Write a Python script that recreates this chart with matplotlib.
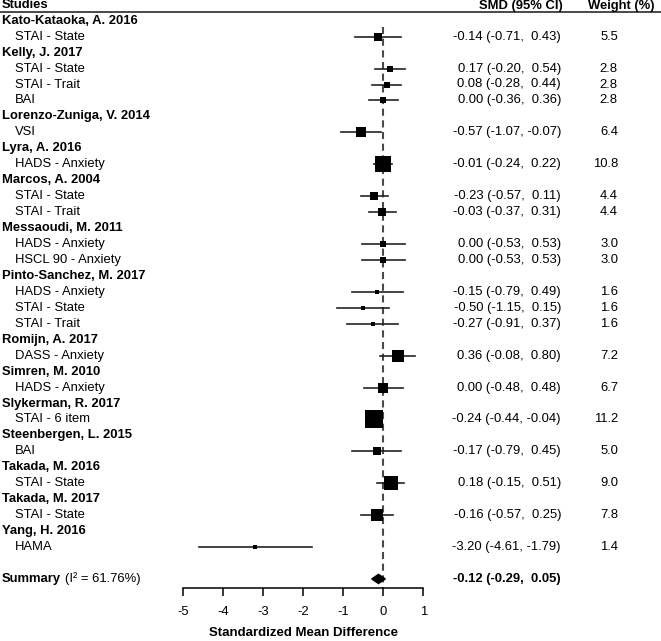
import matplotlib
matplotlib.use("Agg")
import matplotlib.pyplot as plt
from matplotlib.transforms import blended_transform_factory
from matplotlib.patches import Polygon

plt.rcParams['font.family'] = ['Liberation Sans', 'DejaVu Sans']

# ---------------- data ----------------
study_names = [
    "Kato-Kataoka, A. 2016", "Kelly, J. 2017", "Lorenzo-Zuniga, V. 2014",
    "Lyra, A. 2016", "Marcos, A. 2004", "Messaoudi, M. 2011",
    "Pinto-Sanchez, M. 2017", "Romijn, A. 2017", "Simren, M. 2010",
    "Slykerman, R. 2017", "Steenbergen, L. 2015", "Takada, M. 2016",
    "Takada, M. 2017", "Yang, H. 2016",
]
outcome_study = [0, 1, 1, 1, 2, 3, 4, 4, 5, 5, 6, 6, 6, 7, 8, 9, 10, 11, 12, 13]
outcome_labels = [
    "STAI - State",
    "STAI - State", "STAI - Trait", "BAI",
    "VSI",
    "HADS - Anxiety",
    "STAI - State", "STAI - Trait",
    "HADS - Anxiety", "HSCL 90 - Anxiety",
    "HADS - Anxiety", "STAI - State", "STAI - Trait",
    "DASS - Anxiety",
    "HADS - Anxiety",
    "STAI - 6 item",
    "BAI",
    "STAI - State",
    "STAI - State",
    "HAMA",
]
smd = [-0.14, 0.17, 0.08, 0.00, -0.57, -0.01, -0.23, -0.03, 0.00, 0.00,
       -0.15, -0.50, -0.27, 0.36, 0.00, -0.24, -0.17, 0.18, -0.16, -3.20]
ci_low = [-0.71, -0.20, -0.28, -0.36, -1.07, -0.24, -0.57, -0.37, -0.53, -0.53,
          -0.79, -1.15, -0.91, -0.08, -0.48, -0.44, -0.79, -0.15, -0.57, -4.61]
ci_high = [0.43, 0.54, 0.44, 0.36, -0.07, 0.22, 0.11, 0.31, 0.53, 0.53,
           0.49, 0.15, 0.37, 0.80, 0.48, -0.04, 0.45, 0.51, 0.25, -1.79]
weights = [5.5, 2.8, 2.8, 2.8, 6.4, 10.8, 4.4, 4.4, 3.0, 3.0,
           1.6, 1.6, 1.6, 7.2, 6.7, 11.2, 5.0, 9.0, 7.8, 1.4]
summary_est, summary_low, summary_high = -0.12, -0.29, 0.05
summary_i2 = 61.76
x_ticks = [-5, -4, -3, -2, -1, 0, 1]

# ---------------- layout ----------------
W, H = 661, 641
fig = plt.figure(figsize=(W / 100, H / 100), dpi=100)
ax = fig.add_axes([0, 0, 1, 1])

px0, ppu = 383.3, 40.0          # pixel of x=0, pixels per unit
row0_px, row_h = 20.7, 15.95    # pixel of first row, row height
ax.set_xlim(-px0 / ppu, (W - px0) / ppu)
ax.set_ylim(1 + (H - row0_px) / row_h, 1 - row0_px / row_h)

def row_of_px(p):
    return 1 + (p - row0_px) / row_h

# assign rows
header_rows = {}
outcome_rows = []
r = 1
prev = None
for i, s in enumerate(outcome_study):
    if s != prev:
        header_rows[s] = r
        r += 1
        prev = s
    outcome_rows.append(r)
    r += 1
summary_row = r + 1

tr = blended_transform_factory(fig.transFigure, ax.transData)
fs = 9.35

# header
ax.text(2 / W, row_of_px(5.5), "Studies", transform=tr, fontsize=fs,
        fontweight='bold', ha='left', va='center')
ax.text(563 / W, row_of_px(5.5), "SMD (95% CI)", transform=tr, fontsize=fs,
        fontweight='bold', ha='right', va='center')
ax.text(655 / W, row_of_px(5.5), "Weight (%)", transform=tr, fontsize=fs,
        fontweight='bold', ha='right', va='center')
ax.axhline(row_of_px(11.7), color='#3a3a3a', lw=1.3)

# study headers
for s, name in enumerate(study_names):
    ax.text(2 / W, header_rows[s], name, transform=tr, fontsize=fs,
            fontweight='bold', ha='left', va='center')

axis_row = row_of_px(587.5)
# zero line
ax.plot([0, 0], [row_of_px(27), axis_row], color='#4a4a4a', lw=1.5,
        ls=(0, (3.4, 2.2)), zorder=1)

# outcomes
for i, lab in enumerate(outcome_labels):
    y = outcome_rows[i]
    ax.text(15 / W, y, lab, transform=tr, fontsize=fs, ha='left', va='center')
    ax.plot([ci_low[i], ci_high[i]], [y, y], color='#222222', lw=1.2, zorder=2)
    ax.plot([smd[i]], [y], marker='s', color='black',
            ms=(1.0 + 1.45 * weights[i]) * 0.72, mew=0, zorder=3, ls='none')
    ax.text(561 / W, y, f"{smd[i]:.2f} ({ci_low[i]:.2f}, {ci_high[i]:5.2f})",
            transform=tr, fontsize=fs, ha='right', va='center')
    ax.text(618 / W, y, f"{weights[i]:.1f}", transform=tr, fontsize=fs,
            ha='right', va='center')

# summary
t = ax.text(2 / W, summary_row, "Summary", transform=tr, fontsize=fs,
            fontweight='bold', ha='left', va='center')
ax.annotate(f"(I\u00b2 = {summary_i2:.2f}%)", xy=(1, 0.5), xycoords=t,
            xytext=(2.5, 0), textcoords='offset points', fontsize=fs,
            ha='left', va='center')
hh = 4.6 / row_h
ax.add_patch(Polygon([[summary_low, summary_row], [summary_est, summary_row - hh],
                      [summary_high, summary_row], [summary_est, summary_row + hh]],
                     closed=True, color='black', zorder=3))
sm_hi = f"{summary_high:5.2f}"
ax.text(561 / W, summary_row, f"{summary_est:.2f} ({summary_low:.2f}, {sm_hi})",
        transform=tr, fontsize=fs, fontweight='bold', ha='right', va='center')

# axis
for sp in ['top', 'left', 'right']:
    ax.spines[sp].set_visible(False)
ax.spines['bottom'].set_position(('data', axis_row))
ax.spines['bottom'].set_bounds(x_ticks[0], x_ticks[-1])
ax.spines['bottom'].set_linewidth(1.1)
ax.set_yticks([])
ax.set_xticks(x_ticks)
ax.set_xticklabels([str(v) for v in x_ticks])
ax.tick_params(axis='x', direction='out', length=5.4, width=1.1, pad=8,
               labelsize=fs)
ax.text(sum(x_ticks[::len(x_ticks) - 1]) / 2, row_of_px(633.5),
        "Standardized Mean Difference", fontsize=9.55, fontweight='bold',
        ha='center', va='center')

fig.savefig("out.png", dpi=100)
